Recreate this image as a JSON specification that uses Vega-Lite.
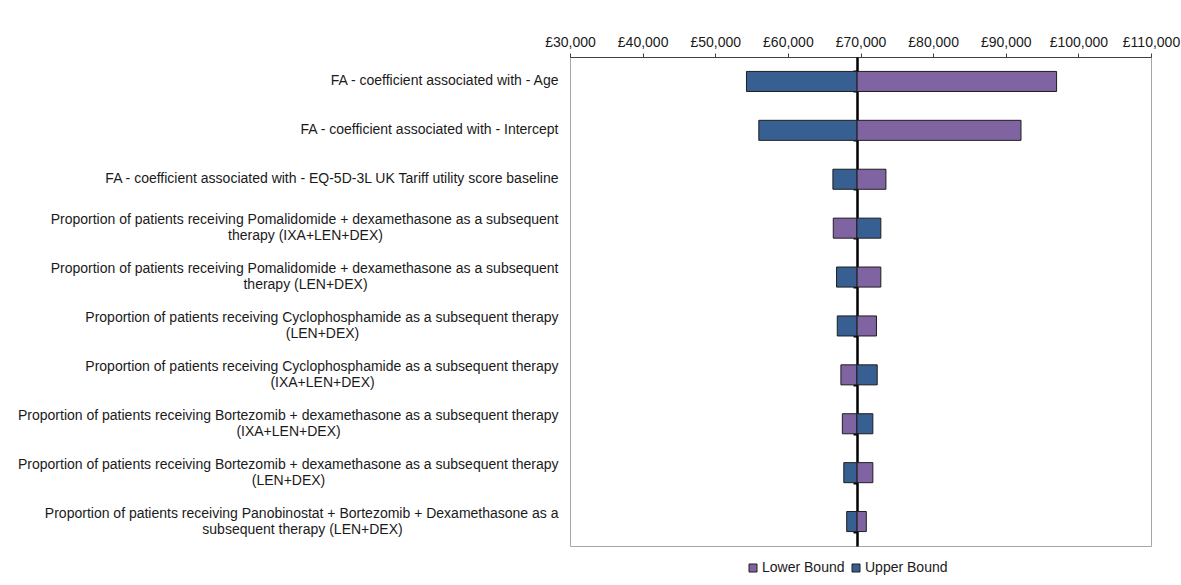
{
  "$schema": "https://vega.github.io/schema/vega-lite/v6.json",
  "width": 581,
  "height": 489,
  "autosize": {"type": "none"},
  "padding": {"left": 570, "top": 57, "right": 30, "bottom": 39},
  "background": "white",
  "config": {
    "view": {"stroke": "#a6a6a6", "strokeWidth": 1},
    "font": "Liberation Sans"
  },
  "data": {
    "values": [
      {"param": "FA - coefficient associated with - Age", "bound": "Lower Bound", "value": 97000},
      {"param": "FA - coefficient associated with - Age", "bound": "Upper Bound", "value": 54300},
      {"param": "FA - coefficient associated with - Intercept", "bound": "Lower Bound", "value": 92100},
      {"param": "FA - coefficient associated with - Intercept", "bound": "Upper Bound", "value": 56000},
      {"param": "FA - coefficient associated with - EQ-5D-3L UK Tariff utility score baseline", "bound": "Lower Bound", "value": 73500},
      {"param": "FA - coefficient associated with - EQ-5D-3L UK Tariff utility score baseline", "bound": "Upper Bound", "value": 66200},
      {"param": "Proportion of patients receiving Pomalidomide + dexamethasone as a subsequent|therapy (IXA+LEN+DEX)", "bound": "Lower Bound", "value": 66250},
      {"param": "Proportion of patients receiving Pomalidomide + dexamethasone as a subsequent|therapy (IXA+LEN+DEX)", "bound": "Upper Bound", "value": 72800},
      {"param": "Proportion of patients receiving Pomalidomide + dexamethasone as a subsequent|therapy (LEN+DEX)", "bound": "Lower Bound", "value": 72800},
      {"param": "Proportion of patients receiving Pomalidomide + dexamethasone as a subsequent|therapy (LEN+DEX)", "bound": "Upper Bound", "value": 66700},
      {"param": "Proportion of patients receiving Cyclophosphamide as a subsequent therapy|(LEN+DEX)", "bound": "Lower Bound", "value": 72200},
      {"param": "Proportion of patients receiving Cyclophosphamide as a subsequent therapy|(LEN+DEX)", "bound": "Upper Bound", "value": 66800},
      {"param": "Proportion of patients receiving Cyclophosphamide as a subsequent therapy|(IXA+LEN+DEX)", "bound": "Lower Bound", "value": 67300},
      {"param": "Proportion of patients receiving Cyclophosphamide as a subsequent therapy|(IXA+LEN+DEX)", "bound": "Upper Bound", "value": 72300},
      {"param": "Proportion of patients receiving Bortezomib + dexamethasone as a subsequent therapy|(IXA+LEN+DEX)", "bound": "Lower Bound", "value": 67500},
      {"param": "Proportion of patients receiving Bortezomib + dexamethasone as a subsequent therapy|(IXA+LEN+DEX)", "bound": "Upper Bound", "value": 71700},
      {"param": "Proportion of patients receiving Bortezomib + dexamethasone as a subsequent therapy|(LEN+DEX)", "bound": "Lower Bound", "value": 71700},
      {"param": "Proportion of patients receiving Bortezomib + dexamethasone as a subsequent therapy|(LEN+DEX)", "bound": "Upper Bound", "value": 67700},
      {"param": "Proportion of patients receiving Panobinostat + Bortezomib + Dexamethasone as a|subsequent therapy (LEN+DEX)", "bound": "Lower Bound", "value": 70800},
      {"param": "Proportion of patients receiving Panobinostat + Bortezomib + Dexamethasone as a|subsequent therapy (LEN+DEX)", "bound": "Upper Bound", "value": 68100}
    ]
  },
  "resolve": {"axis": {"y": "independent"}},
  "layer": [
    {
      "mark": {"type": "bar", "stroke": "#1e1e1e", "strokeWidth": 1},
      "encoding": {
        "y": {
          "field": "param",
          "type": "nominal",
          "sort": null,
          "scale": {"paddingInner": 0.59, "paddingOuter": 0.295},
          "axis": {
            "title": null,
            "orient": "left",
            "domain": false,
            "ticks": false,
            "labelPadding": 12,
            "labelLimit": 700,
            "labelFontSize": 14,
            "labelColor": "#1a1a1a",
            "labelAlign": "right",
            "labelExpr": "split(datum.value, '|')[0]",
            "labelOffset": {"condition": {"test": "indexof(datum.value, '|') >= 0", "value": -8}, "value": 0}
          }
        },
        "x": {
          "field": "value",
          "type": "quantitative",
          "scale": {"domain": [30000, 110000], "nice": false},
          "axis": {
            "title": null,
            "orient": "top",
            "values": [30000, 40000, 50000, 60000, 70000, 80000, 90000, 100000, 110000],
            "grid": false,
            "labelOverlap": false,
            "labelFlush": false,
            "domainColor": "#404040",
            "tickColor": "#404040",
            "tickSize": 4,
            "labelFontSize": 14,
            "labelColor": "#1a1a1a",
            "labelPadding": 4,
            "labelExpr": "'£' + format(datum.value, ',')"
          }
        },
        "x2": {"datum": 69500},
        "color": {
          "field": "bound",
          "type": "nominal",
          "scale": {"domain": ["Lower Bound", "Upper Bound"], "range": ["#8064A2", "#375F92"]},
          "legend": {
            "title": null,
            "orient": "none",
            "direction": "horizontal",
            "legendX": 176,
            "legendY": 504,
            "symbolType": "square",
            "symbolSize": 64,
            "symbolStrokeColor": "#1e1e1e",
            "symbolStrokeWidth": 1,
            "labelFontSize": 14,
            "labelColor": "#1a1a1a",
            "labelOffset": 2,
            "columnPadding": 4
          }
        }
      }
    },
    {
      "mark": {"type": "point", "opacity": 0},
      "encoding": {
        "y": {
          "field": "param",
          "type": "nominal",
          "sort": null,
          "axis": {
            "title": null,
            "orient": "left",
            "domain": false,
            "ticks": false,
            "labelLimit": 700,
            "labelFontSize": 14,
            "labelColor": "#1a1a1a",
            "labelAlign": "center",
            "labelOffset": 8,
            "labelExpr": "length(split(datum.value, '|')) > 1 ? split(datum.value, '|')[1] : ''",
            "labelPadding": {
              "condition": [
                {"test": "indexof(datum.value, 'Pomalidomide') >= 0", "value": 265},
                {"test": "indexof(datum.value, 'Cyclophosphamide') >= 0", "value": 248},
                {"test": "indexof(datum.value, 'Bortezomib + dexamethasone') >= 0", "value": 282},
                {"test": "indexof(datum.value, 'Panobinostat') >= 0", "value": 268}
              ],
              "value": 12
            }
          }
        },
        "x": {"datum": 69500}
      }
    },
    {
      "mark": {"type": "point", "opacity": 0},
      "encoding": {
        "y": {
          "field": "param",
          "type": "nominal",
          "sort": null,
          "axis": {
            "title": null,
            "orient": "left",
            "offset": -287,
            "labels": false,
            "domain": true,
            "domainColor": "black",
            "domainWidth": 2.5,
            "ticks": true,
            "tickBand": "extent",
            "tickSize": 4,
            "tickWidth": 2,
            "tickColor": "black"
          }
        },
        "x": {"datum": 69500}
      }
    }
  ]
}
